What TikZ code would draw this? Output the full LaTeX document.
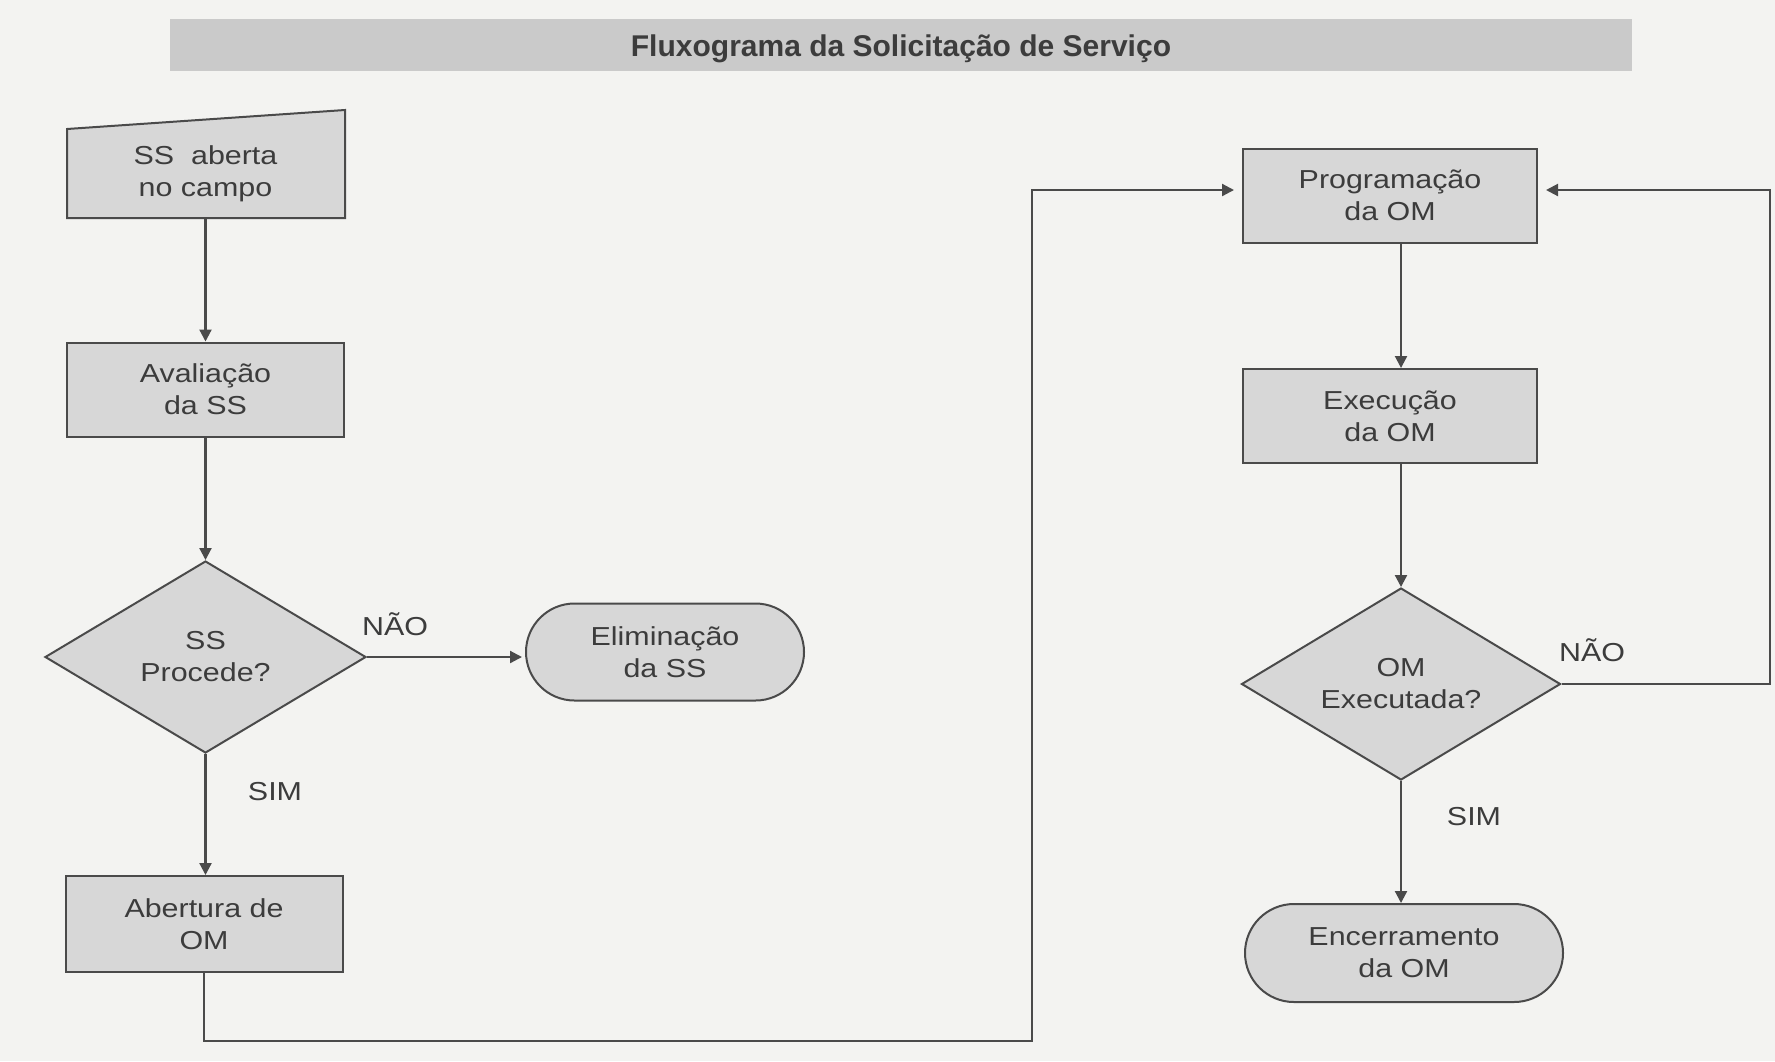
\documentclass[tikz,border=0pt]{standalone}
\usepackage{fontspec}
\setmainfont{Liberation Sans}
\newfontfamily\boxfont{Liberation Sans}[FakeStretch=1.17]
\usetikzlibrary{shapes.geometric,shapes.misc,arrows.meta,positioning}
\definecolor{bggray}{HTML}{F3F3F1}
\definecolor{bargray}{HTML}{CACACA}
\definecolor{boxgray}{HTML}{D7D7D7}
\definecolor{linegray}{HTML}{4A4A4A}
\definecolor{textgray}{HTML}{3C3C3C}

\begin{document}
\begin{tikzpicture}[x=0.5pt,y=-0.5pt,
    every node/.style={text=textgray,align=center,font=\boxfont\fontsize{13}{16}\selectfont},
    procbox/.style={rectangle,draw=linegray,fill=boxgray,line width=1pt,inner sep=0pt,minimum width=138.5pt,minimum height=47pt},
    decision/.style={diamond,draw=linegray,fill=boxgray,line width=1pt,inner sep=0pt,aspect=1.67,minimum width=160.5pt,minimum height=96pt},
    terminal/.style={rounded rectangle,draw=linegray,fill=boxgray,line width=1pt,inner sep=0pt,minimum width=139pt,minimum height=48.5pt},
    flow/.style={draw=linegray,line width=1.1pt,-{Triangle[length=6pt,width=6pt]}}]
        \fill[bggray] (0,0) rectangle (1775,1061);

        % title
        \node[fill=bargray,inner sep=0pt,minimum width=731pt,minimum height=26pt,text depth=1pt,
              font=\bfseries\fontsize{15}{18}\selectfont] at (901,45) (title) {\raisebox{-1.5pt}{Fluxograma da Solicitação de Serviço}};

        % manual input
        \filldraw[fill=boxgray,draw=linegray,line width=1pt] (67,218) -- (345,218) -- (345,110) -- (67,129) -- cycle;
        \node[inner sep=0pt,minimum width=139pt,minimum height=44.5pt] at (205.5,173.5) (campo) {SS~ aberta\\no campo};

        \node[procbox] at (205.5,389.5) (aval) {Avaliação\\da SS};
        \node[decision] at (205.5,657) (proc) {SS\\Procede?};
        \node[terminal] at (665,652) (elim) {Eliminação\\da SS};
        \node[procbox,minimum height=48pt] at (204,924) (abert) {Abertura de\\OM};

        \node[procbox,minimum width=147pt] at (1390,195.5) (prog) {Programação\\da OM};
        \node[procbox,minimum width=147pt] at (1390,416) (exec) {Execução\\da OM};
        \node[decision,minimum width=159.5pt] at (1401,684) (exect) {OM\\Executada?};
        \node[terminal,minimum width=159pt,minimum height=49pt] at (1404,953) (encer) {Encerramento\\da OM};

        \node at (395,624) (nao1) {NÃO};
        \node at (275,792) (sim1) {SIM};
        \node at (1592,650) (nao2) {NÃO};
        \node at (1474,817) (sim2) {SIM};

        \coordinate (c1) at (1032,1041);
        \coordinate (c1b) at (1032,190);
        \coordinate (c2) at (1770,190);

        \draw[flow] (campo.south) -- (aval.north);
        \draw[flow] (aval.south) -- (proc.north);
        \draw[flow,shorten >=1.5pt] (proc.east) -- (proc.east -| elim.west);
        \draw[flow] (proc.south) -- (proc.south |- abert.north);
        \draw[flow,shorten >=4pt] (abert.south) |- (c1) -- (c1b) -- (c1b -| prog.west);
        \draw[flow] (prog.south -| exect.north) -- (exec.north -| exect.north);
        \draw[flow] (exec.south -| exect.north) -- (exect.north);
        \draw[flow] (exect.south) -- (exect.south |- encer.north);
        \draw[flow,shorten >=4pt] (exect.east) -| (c2) -- (c2 -| prog.east);
    \end{tikzpicture}
\end{document}
